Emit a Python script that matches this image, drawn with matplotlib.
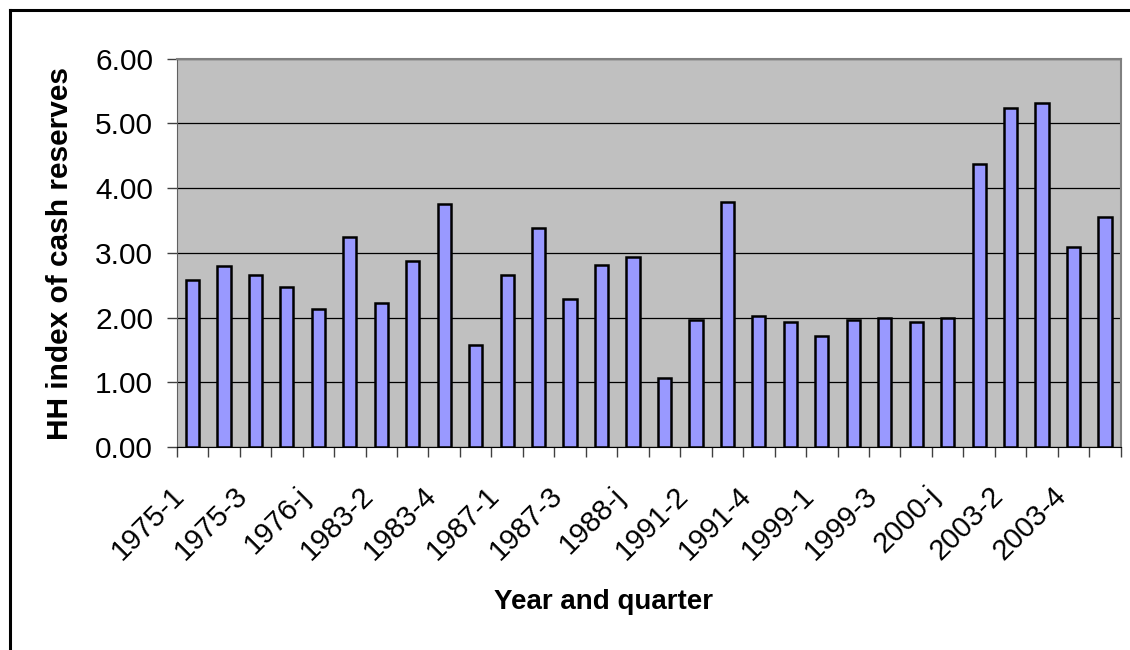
import matplotlib.pyplot as plt
import matplotlib.transforms as mtransforms
from matplotlib.lines import Line2D

# HH index of cash reserves by year and quarter
periods = [
    '1975-1', '1975-2', '1975-3', '1975-4', '1976-j',
    '1983-1', '1983-2', '1983-3', '1983-4', '1984-j',
    '1987-1', '1987-2', '1987-3', '1987-4', '1988-j',
    '1991-1', '1991-2', '1991-3', '1991-4', '1992-j',
    '1999-1', '1999-2', '1999-3', '1999-4', '2000-j',
    '2003-1', '2003-2', '2003-3', '2003-4', '2004-j',
]
hh_index = [
    2.58, 2.80, 2.66, 2.47, 2.14,
    3.24, 2.22, 2.88, 3.75, 1.57,
    2.66, 3.39, 2.29, 2.81, 2.94,
    1.06, 1.97, 3.79, 2.03, 1.93,
    1.72, 1.97, 2.00, 1.93, 2.00,
    4.37, 5.24, 5.31, 3.09, 3.56,
]
y_ticks = [0, 1, 2, 3, 4, 5, 6]

plt.rcParams['font.family'] = ['Liberation Sans', 'DejaVu Sans']

fig = plt.figure(figsize=(11.3, 6.5), dpi=100)
ax = fig.add_axes([0.1564, 0.3123, 0.8354, 0.5974])
ax.set_facecolor('#C0C0C0')

x = list(range(len(periods)))
ax.bar(x, hh_index, width=0.42, color='#9999FF', edgecolor='black', linewidth=1.8, zorder=3)

ax.set_xlim(-0.5, len(periods) - 0.5)
ax.set_ylim(0, 6)
ax.set_yticks(y_ticks, [f'{v:.2f}' for v in y_ticks])
ax.yaxis.grid(True, color='black', linewidth=0.9, zorder=1)
ax.set_axisbelow(True)

# category labels on every other bar, tick marks on category boundaries
ax.set_xticks(x[::2], periods[::2])
ax.set_xticks([i - 0.5 for i in range(len(periods) + 1)], minor=True)
ax.tick_params(axis='x', which='major', length=0, pad=32, labelsize=21)
ax.tick_params(axis='x', which='minor', length=7, width=1, color='#404040')
ax.tick_params(axis='y', length=7, width=1, color='#404040', pad=10, labelsize=21.5)

offset = mtransforms.ScaledTranslation(-12 / 100, 0, fig.dpi_scale_trans)
for lbl in ax.get_xticklabels():
    lbl.set_rotation(45)
    lbl.set_rotation_mode('anchor')
    lbl.set_ha('right')
    lbl.set_va('center')
    lbl.set_transform(lbl.get_transform() + offset)

for side in ['top', 'right']:
    ax.spines[side].set_color('#808080')
    ax.spines[side].set_linewidth(1.5)
ax.spines['left'].set_color('#606060')
ax.spines['bottom'].set_color('black')

fig.text(60 / 1130, 1 - 254 / 650, 'HH index of cash reserves', rotation=90,
         ha='center', va='center', fontsize=21.5, fontweight='bold')
fig.text(604 / 1130, 1 - 609 / 650, 'Year and quarter',
         ha='center', va='baseline', fontsize=20, fontweight='bold')

# chart frame (only top and left edges fall inside the image)
fig.add_artist(Line2D([9.5 / 1130, 1.0], [1 - 9.5 / 650] * 2, color='black', linewidth=2.2))
fig.add_artist(Line2D([9.5 / 1130] * 2, [0.0, 1 - 9.5 / 650], color='black', linewidth=2.2))

fig.savefig('out.png', dpi=100)
